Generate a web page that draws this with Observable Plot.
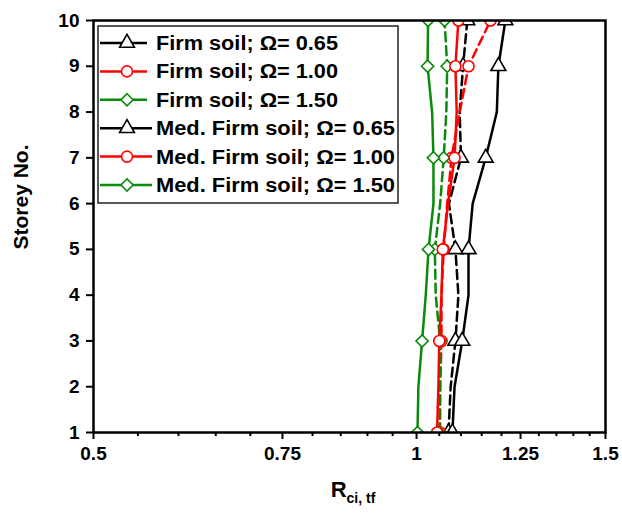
<!DOCTYPE html>
<html><head><meta charset="utf-8">
<script src="https://cdn.jsdelivr.net/npm/d3@7"></script>
<script src="https://cdn.jsdelivr.net/npm/@observablehq/plot@0.6"></script>
<style>body{margin:0;background:#fff;} #chart svg{display:block;}</style>
</head><body><div id="chart"></div>
<script>
const storeys = [1, 2, 3, 4, 5, 6, 7, 8, 9, 10];
const markerStoreys = [1, 3, 5, 7, 9, 10];
const firm065 = [1.071, 1.076, 1.087, 1.094, 1.087, 1.072, 1.100, 1.097, 1.105, 1.115];
const firm100 = [1.052, 1.052, 1.055, 1.055, 1.060, 1.068, 1.078, 1.097, 1.118, 1.172];
const firm150 = [1.050, 1.052, 1.052, 1.042, 1.040, 1.052, 1.060, 1.066, 1.068, 1.062];
const med065 = [1.080, 1.085, 1.103, 1.118, 1.118, 1.128, 1.160, 1.188, 1.192, 1.210];
const med100 = [1.045, 1.048, 1.050, 1.055, 1.058, 1.070, 1.085, 1.090, 1.087, 1.094];
const med150 = [1.002, 1.004, 1.012, 1.020, 1.026, 1.037, 1.037, 1.034, 1.024, 1.025];
const seriesValues = [firm065, firm100, firm150, med065, med100, med150];
const seriesNames = ["Firm soil; Ω= 0.65", "Firm soil; Ω= 1.00", "Firm soil; Ω= 1.50",
  "Med. Firm soil; Ω= 0.65", "Med. Firm soil; Ω= 1.00", "Med. Firm soil; Ω= 1.50"];
const seriesColors = ["#000000", "#ff0000", "#0a8a0a", "#000000", "#ff0000", "#0a8a0a"];
const seriesSymbols = ["triangle", "circle", "diamond2", "triangle", "circle", "diamond2"];
const seriesDashed = [true, true, true, false, false, false];
const xMinorTicks = [0.55, 0.6, 0.65, 0.7, 0.8, 0.85, 0.9, 0.95, 1.05, 1.1, 1.15, 1.2, 1.3, 1.35, 1.4, 1.45];
const xMajorTicks = [0.5, 0.75, 1, 1.25, 1.5];
const xMajorLabels = ["0.5", "0.75", "1", "1.25", "1.5"];
const yTicks = [1, 2, 3, 4, 5, 6, 7, 8, 9, 10];
const xTitle = "R";
const xTitleSub = "ci, tf";
const yTitle = "Storey No.";

const R = 5.5;
const lineMarks = [], dotMarks = [];
seriesValues.forEach((vals, i) => {
  const rows = storeys.map((s, j) => ({storey: s, value: vals[j]}));
  lineMarks.push(Plot.line(rows, {x: "value", y: "storey", stroke: seriesColors[i], strokeWidth: 2.5,
    strokeDasharray: seriesDashed[i] ? "9,5" : null, clip: true}));
  const mrows = rows.filter(d => markerStoreys.includes(d.storey));
  dotMarks.push(Plot.dot(mrows, {x: "value", y: "storey", symbol: () => seriesSymbols[i], r: R,
    fill: "white", stroke: seriesColors[i], strokeWidth: 1.6, clip: true}));
});

const labelMap = new Map(xMajorTicks.map((t, i) => [t, xMajorLabels[i]]));
const chart = Plot.plot({
  width: 622, height: 517,
  marginLeft: 93, marginRight: 17, marginTop: 20, marginBottom: 85,
  style: {fontFamily: "'Liberation Sans', Arial, sans-serif", fontSize: "19px", color: "#000", background: "#fff", overflow: "visible"},
  x: {type: "log", domain: [0.5, 1.5]},
  y: {domain: [1, 10]},
  marks: [
    Plot.axisX({ticks: xMinorTicks, tickSize: 4, tickFormat: () => "", strokeWidth: 2, label: null}),
    Plot.axisX({ticks: xMajorTicks, tickSize: 7, tickPadding: 7, tickFormat: d => labelMap.get(d), strokeWidth: 2, fontSize: 19, fontWeight: "bold", label: null}),
    Plot.axisY({ticks: yTicks, tickSize: 7, tickPadding: 7, tickFormat: d => String(d), strokeWidth: 2, fontSize: 19, fontWeight: "bold", label: null}),
    ...lineMarks,
    ...dotMarks,
    Plot.frame({stroke: "#000", strokeWidth: 2.5})
  ]
});
document.getElementById("chart").appendChild(chart);

const svg = d3.select(chart);
// axis titles
svg.append("text").attr("transform", "translate(28,197) rotate(-90)")
  .attr("text-anchor", "middle").attr("font-weight", "bold").attr("font-size", 21)
  .attr("fill", "#000").text(yTitle);
const xt = svg.append("text").attr("x", 353).attr("y", 497).attr("text-anchor", "middle")
  .attr("font-weight", "bold").attr("fill", "#000");
xt.append("tspan").attr("font-size", 22).text(xTitle);
xt.append("tspan").attr("font-size", 14).attr("dy", 6).text(xTitleSub);

// legend
const lg = svg.append("g");
lg.append("rect").attr("x", 98).attr("y", 26).attr("width", 300).attr("height", 177)
  .attr("fill", "white").attr("stroke", "#222").attr("stroke-width", 1.5);
seriesNames.forEach((name, i) => {
  const y = 43 + i * 28.4;
  const x2 = seriesDashed[i] ? 147 : 152;
  lg.append("line").attr("x1", 100).attr("x2", x2).attr("y1", y).attr("y2", y)
    .attr("stroke", seriesColors[i]).attr("stroke-width", 2.5);
  const typ = {triangle: d3.symbolTriangle, circle: d3.symbolCircle, diamond2: d3.symbolDiamond2}[seriesSymbols[i]];
  lg.append("path").attr("d", d3.symbol(typ, Math.PI * R * R)())
    .attr("transform", `translate(127,${y})`).attr("fill", "white")
    .attr("stroke", seriesColors[i]).attr("stroke-width", 1.6);
  lg.append("text").attr("x", 156).attr("y", y + 7).attr("text-anchor", "start").attr("font-weight", "bold")
    .attr("font-size", 20).attr("textLength", seriesDashed[i] ? 182 : 239).attr("lengthAdjust", "spacingAndGlyphs")
    .attr("fill", "#000").text(name);
});
</script>
</body></html>
